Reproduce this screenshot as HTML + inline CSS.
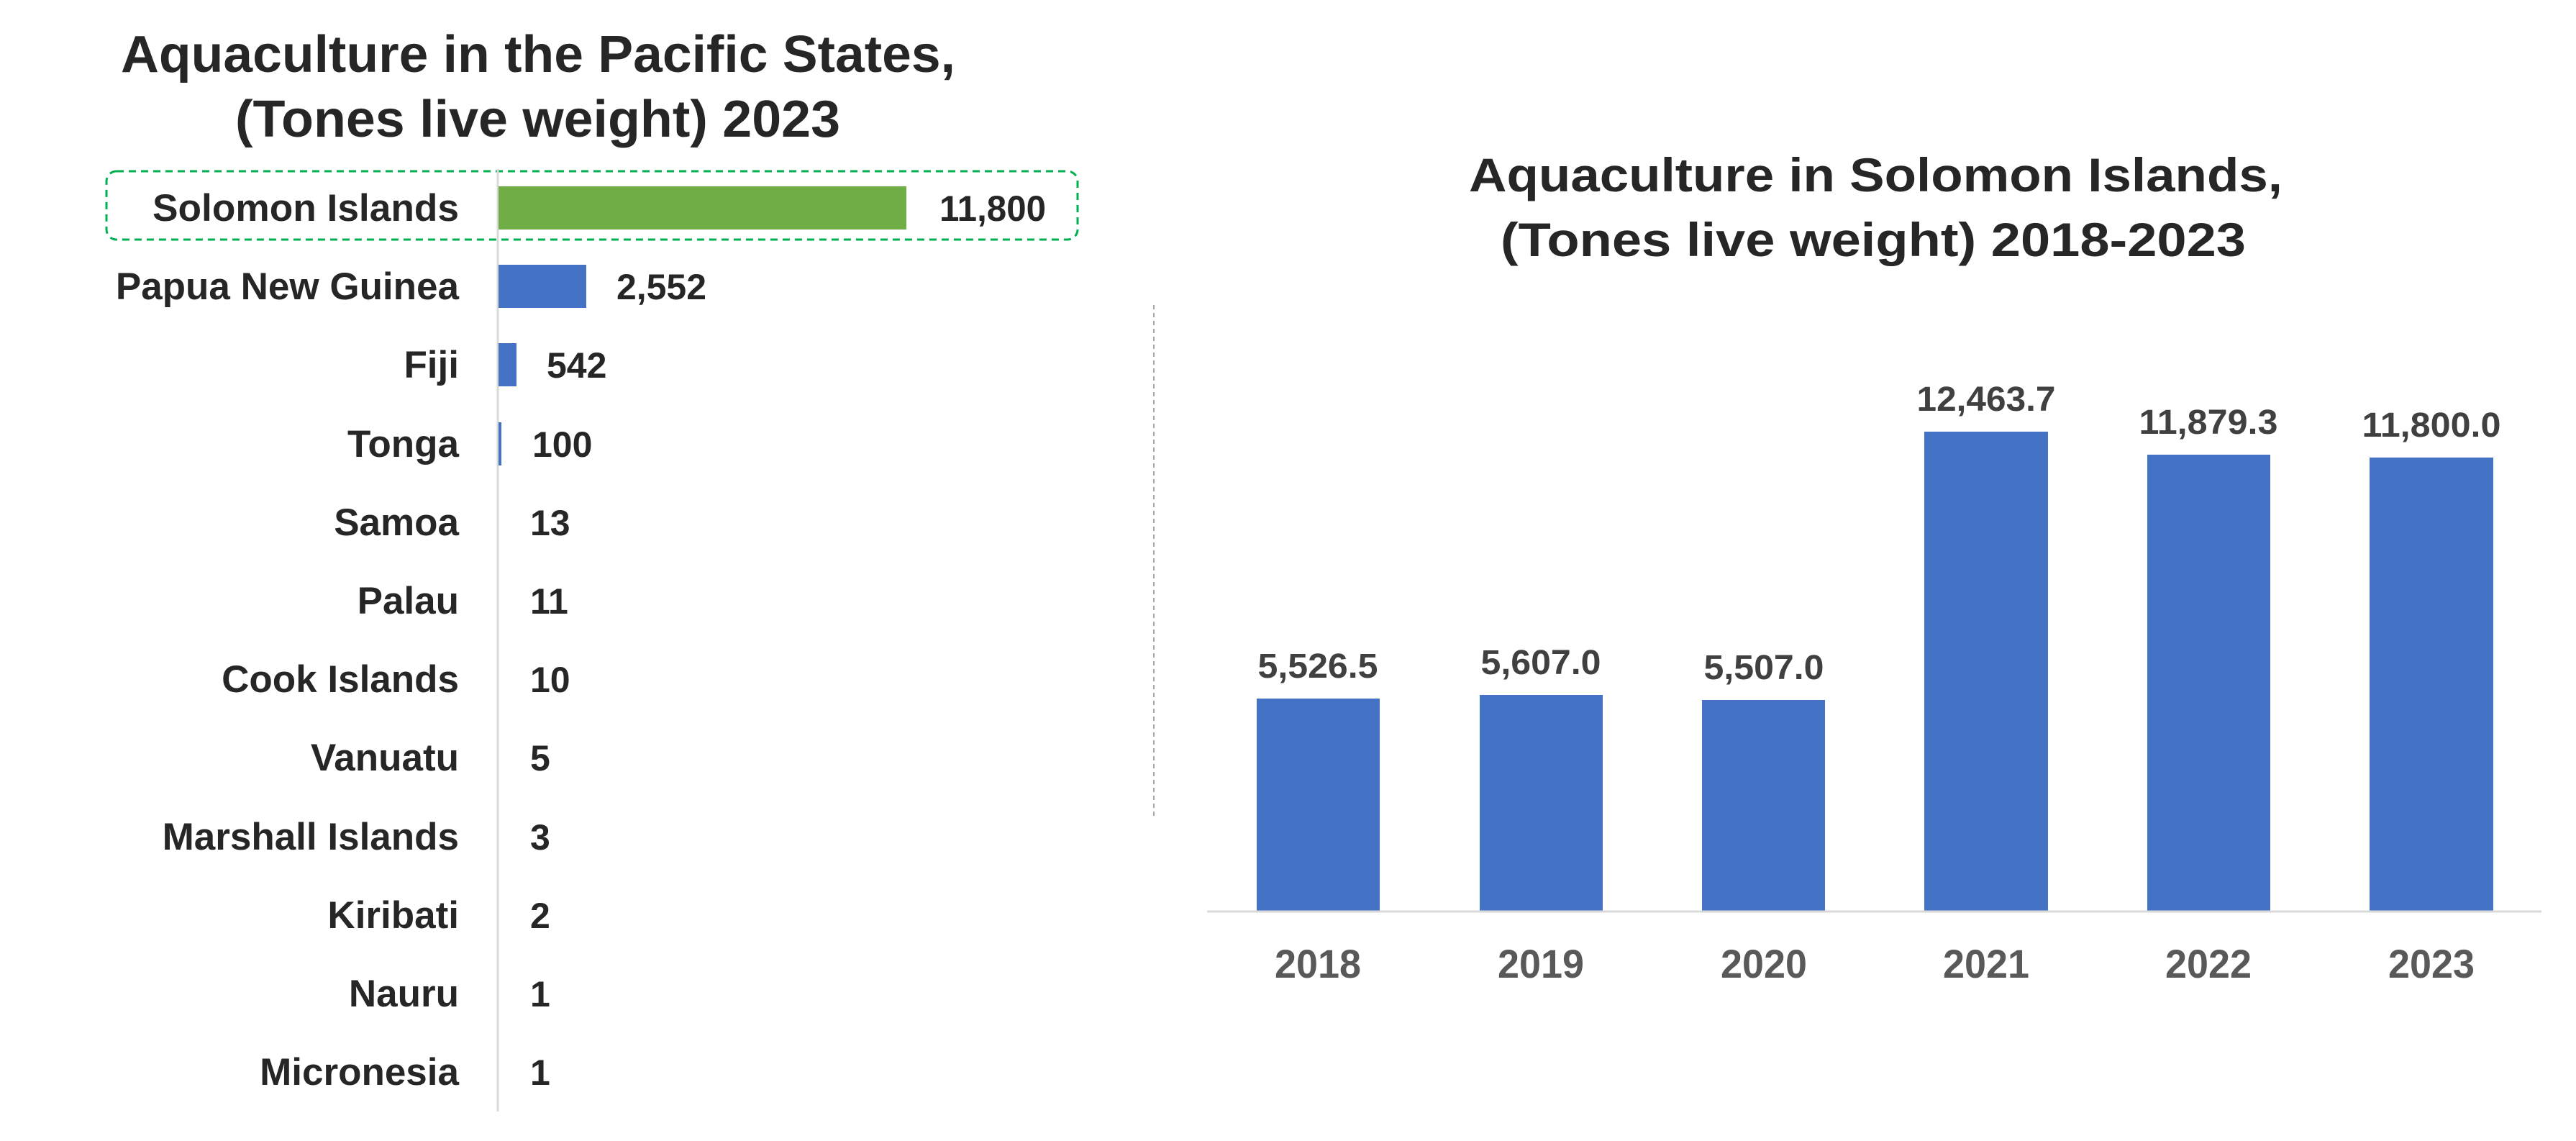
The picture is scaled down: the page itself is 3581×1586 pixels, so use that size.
<!DOCTYPE html>
<html><head><meta charset="utf-8"><style>
html,body{margin:0;padding:0;background:#fff;}
svg{display:block;}
text{font-family:"Liberation Sans",sans-serif;font-weight:bold;}
</style></head><body>
<svg width="3581" height="1586" viewBox="0 0 3581 1586" xmlns="http://www.w3.org/2000/svg">
<rect width="3581" height="1586" fill="#fff"/>
<!-- Left chart -->
<text x="168" y="100" font-size="72" fill="#262626" textLength="1160" lengthAdjust="spacingAndGlyphs">Aquaculture in the Pacific States,</text>
<text x="327" y="190" font-size="72" fill="#262626" textLength="841" lengthAdjust="spacingAndGlyphs">(Tones live weight) 2023</text>
<rect x="148" y="238" width="1350" height="95" rx="14" fill="none" stroke="#00b050" stroke-width="3" stroke-dasharray="10,7"/>
<line x1="692" y1="235" x2="692" y2="1545" stroke="#d9d9d9" stroke-width="3"/>
<g fill="#262626" font-size="53" text-anchor="end">
<text x="638" y="307" textLength="426" lengthAdjust="spacingAndGlyphs">Solomon Islands</text>
<text x="638" y="416">Papua New Guinea</text>
<text x="638" y="525">Fiji</text>
<text x="638" y="635">Tonga</text>
<text x="638" y="744">Samoa</text>
<text x="638" y="853">Palau</text>
<text x="638" y="962">Cook Islands</text>
<text x="638" y="1071">Vanuatu</text>
<text x="638" y="1181">Marshall Islands</text>
<text x="638" y="1290">Kiribati</text>
<text x="638" y="1399">Nauru</text>
<text x="638" y="1508">Micronesia</text>
</g>
<rect x="693" y="259" width="567" height="60" fill="#70ad47"/>
<rect x="693" y="368" width="122" height="60" fill="#4472c4"/>
<rect x="693" y="477" width="25" height="60" fill="#4472c4"/>
<rect x="693" y="587" width="4" height="60" fill="#4472c4"/>
<g fill="#262626" font-size="50">
<text x="1306" y="307" textLength="148" lengthAdjust="spacingAndGlyphs">11,800</text>
<text x="857" y="416" textLength="125" lengthAdjust="spacingAndGlyphs">2,552</text>
<text x="760" y="525">542</text>
<text x="740" y="635">100</text>
<text x="737" y="744">13</text>
<text x="737" y="853">11</text>
<text x="737" y="962">10</text>
<text x="737" y="1071">5</text>
<text x="737" y="1181">3</text>
<text x="737" y="1290">2</text>
<text x="737" y="1399">1</text>
<text x="737" y="1508">1</text>
</g>
<!-- Right chart -->
<line x1="1604" y1="424" x2="1604" y2="1137" stroke="#a6a6a6" stroke-width="2" stroke-dasharray="6,5"/>
<text x="2042" y="266" font-size="66" fill="#262626" textLength="1131" lengthAdjust="spacingAndGlyphs">Aquaculture in Solomon Islands,</text>
<text x="2086" y="356" font-size="66" fill="#262626" textLength="1036" lengthAdjust="spacingAndGlyphs">(Tones live weight) 2018-2023</text>
<g fill="#4472c4">
<rect x="1747" y="971" width="171" height="296"/>
<rect x="2057" y="966" width="171" height="301"/>
<rect x="2366" y="973" width="171" height="294"/>
<rect x="2675" y="600" width="172" height="667"/>
<rect x="2985" y="632" width="171" height="635"/>
<rect x="3294" y="636" width="172" height="631"/>
</g>
<line x1="1678" y1="1267" x2="3533" y2="1267" stroke="#d9d9d9" stroke-width="3"/>
<g fill="#404040" font-size="48" text-anchor="middle">
<text x="1832" y="942" textLength="167" lengthAdjust="spacingAndGlyphs">5,526.5</text>
<text x="2142" y="937" textLength="167" lengthAdjust="spacingAndGlyphs">5,607.0</text>
<text x="2452" y="944" textLength="167" lengthAdjust="spacingAndGlyphs">5,507.0</text>
<text x="2761" y="571" textLength="193" lengthAdjust="spacingAndGlyphs">12,463.7</text>
<text x="3070" y="603" textLength="193" lengthAdjust="spacingAndGlyphs">11,879.3</text>
<text x="3380" y="607" textLength="193" lengthAdjust="spacingAndGlyphs">11,800.0</text>
</g>
<g fill="#595959" font-size="56" text-anchor="middle">
<text x="1832" y="1359" textLength="120" lengthAdjust="spacingAndGlyphs">2018</text>
<text x="2142" y="1359" textLength="120" lengthAdjust="spacingAndGlyphs">2019</text>
<text x="2452" y="1359" textLength="120" lengthAdjust="spacingAndGlyphs">2020</text>
<text x="2761" y="1359" textLength="120" lengthAdjust="spacingAndGlyphs">2021</text>
<text x="3070" y="1359" textLength="120" lengthAdjust="spacingAndGlyphs">2022</text>
<text x="3380" y="1359" textLength="120" lengthAdjust="spacingAndGlyphs">2023</text>
</g>
</svg>
</body></html>
